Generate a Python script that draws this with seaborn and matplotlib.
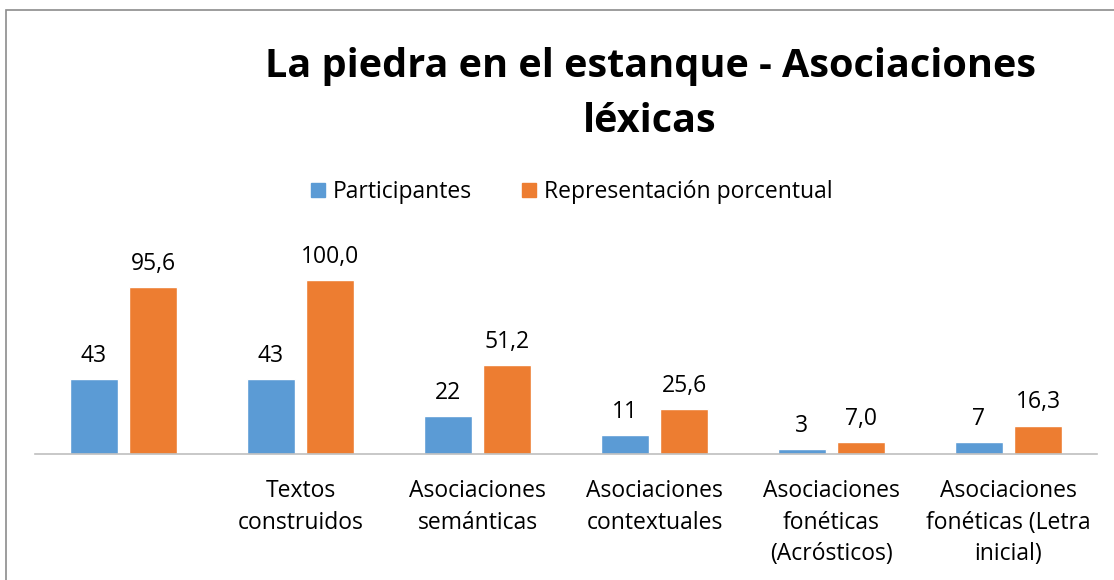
import matplotlib
matplotlib.use('Agg')
import matplotlib.pyplot as plt
import matplotlib.patches as mpatches
import seaborn as sns
import pandas as pd

# Data
categories = ['', 'Textos\nconstruidos', 'Asociaciones\nsemánticas', 'Asociaciones\ncontextuales',
              'Asociaciones\nfonéticas\n(Acrósticos)', 'Asociaciones\nfonéticas (Letra\ninicial)']
participantes = [43, 43, 22, 11, 3, 7]
porcentaje = [95.6, 100.0, 51.2, 25.6, 7.0, 16.3]
series = ['Participantes', 'Representación porcentual']
colors = ['#5B9BD5', '#ED7D31']

df = pd.DataFrame({
    'cat': list(range(len(categories))) * 2,
    'valor': participantes + porcentaje,
    'serie': [series[0]] * len(categories) + [series[1]] * len(categories),
})

sns.set_style('white')
plt.rcParams['font.family'] = ['Open Sans', 'DejaVu Sans']
plt.rcParams['text.color'] = 'black'
plt.rcParams['xtick.color'] = 'black'

W, H = 1114, 580
fig = plt.figure(figsize=(W / 100, H / 100), dpi=100)

# chart border (top and left visible)
fig.add_artist(mpatches.Rectangle((6 / W, -0.1), 1.2, (H - 10) / H + 0.1, transform=fig.transFigure,
                                  fill=False, edgecolor='#8c8c8c', linewidth=1.2))

ax = fig.add_axes([35 / W, (H - 454) / H, 1062 / W, 209 / H])
sns.barplot(data=df, x='cat', y='valor', hue='serie', hue_order=series, palette=colors,
            width=0.667, gap=0.19, ax=ax, legend=False, saturation=1)
ax.set_ylim(0, 120)
ax.set_xlim(-0.5, len(categories) - 0.5)

for cont, s in zip(ax.containers, series):
    if s == series[0]:
        labels = [f'{v:d}' for v in participantes]
    else:
        labels = [f'{v:.1f}'.replace('.', ',') for v in porcentaje]
    ax.bar_label(cont, labels=labels, padding=8, fontsize=16.5, color='black')

ax.set_xticks(range(len(categories)))
ax.set_xticklabels(categories, fontsize=16.5, linespacing=1.42, color='black')
ax.tick_params(axis='x', length=0, pad=18)
ax.set_yticks([])
ax.set_xlabel('')
ax.set_ylabel('')
for side in ['top', 'right', 'left']:
    ax.spines[side].set_visible(False)
ax.spines['bottom'].set_color('#bfbfbf')
ax.spines['bottom'].set_linewidth(1.2)

fig.text(650 / W, 1 - 94 / H, 'La piedra en el estanque - Asociaciones\nléxicas',
         ha='center', va='center', fontsize=28.5, fontweight='bold', linespacing=1.55, color='black')

handles = [mpatches.Patch(color=c, label=s) for c, s in zip(colors, series)]
fig.legend(handles=handles, loc='center', bbox_to_anchor=(572 / W, 1 - 192 / H), ncol=2,
           frameon=False, fontsize=16.5, handlelength=0.6, handleheight=0.6, handletextpad=0.35,
           columnspacing=2.2)

fig.savefig('out.png', dpi=100)
